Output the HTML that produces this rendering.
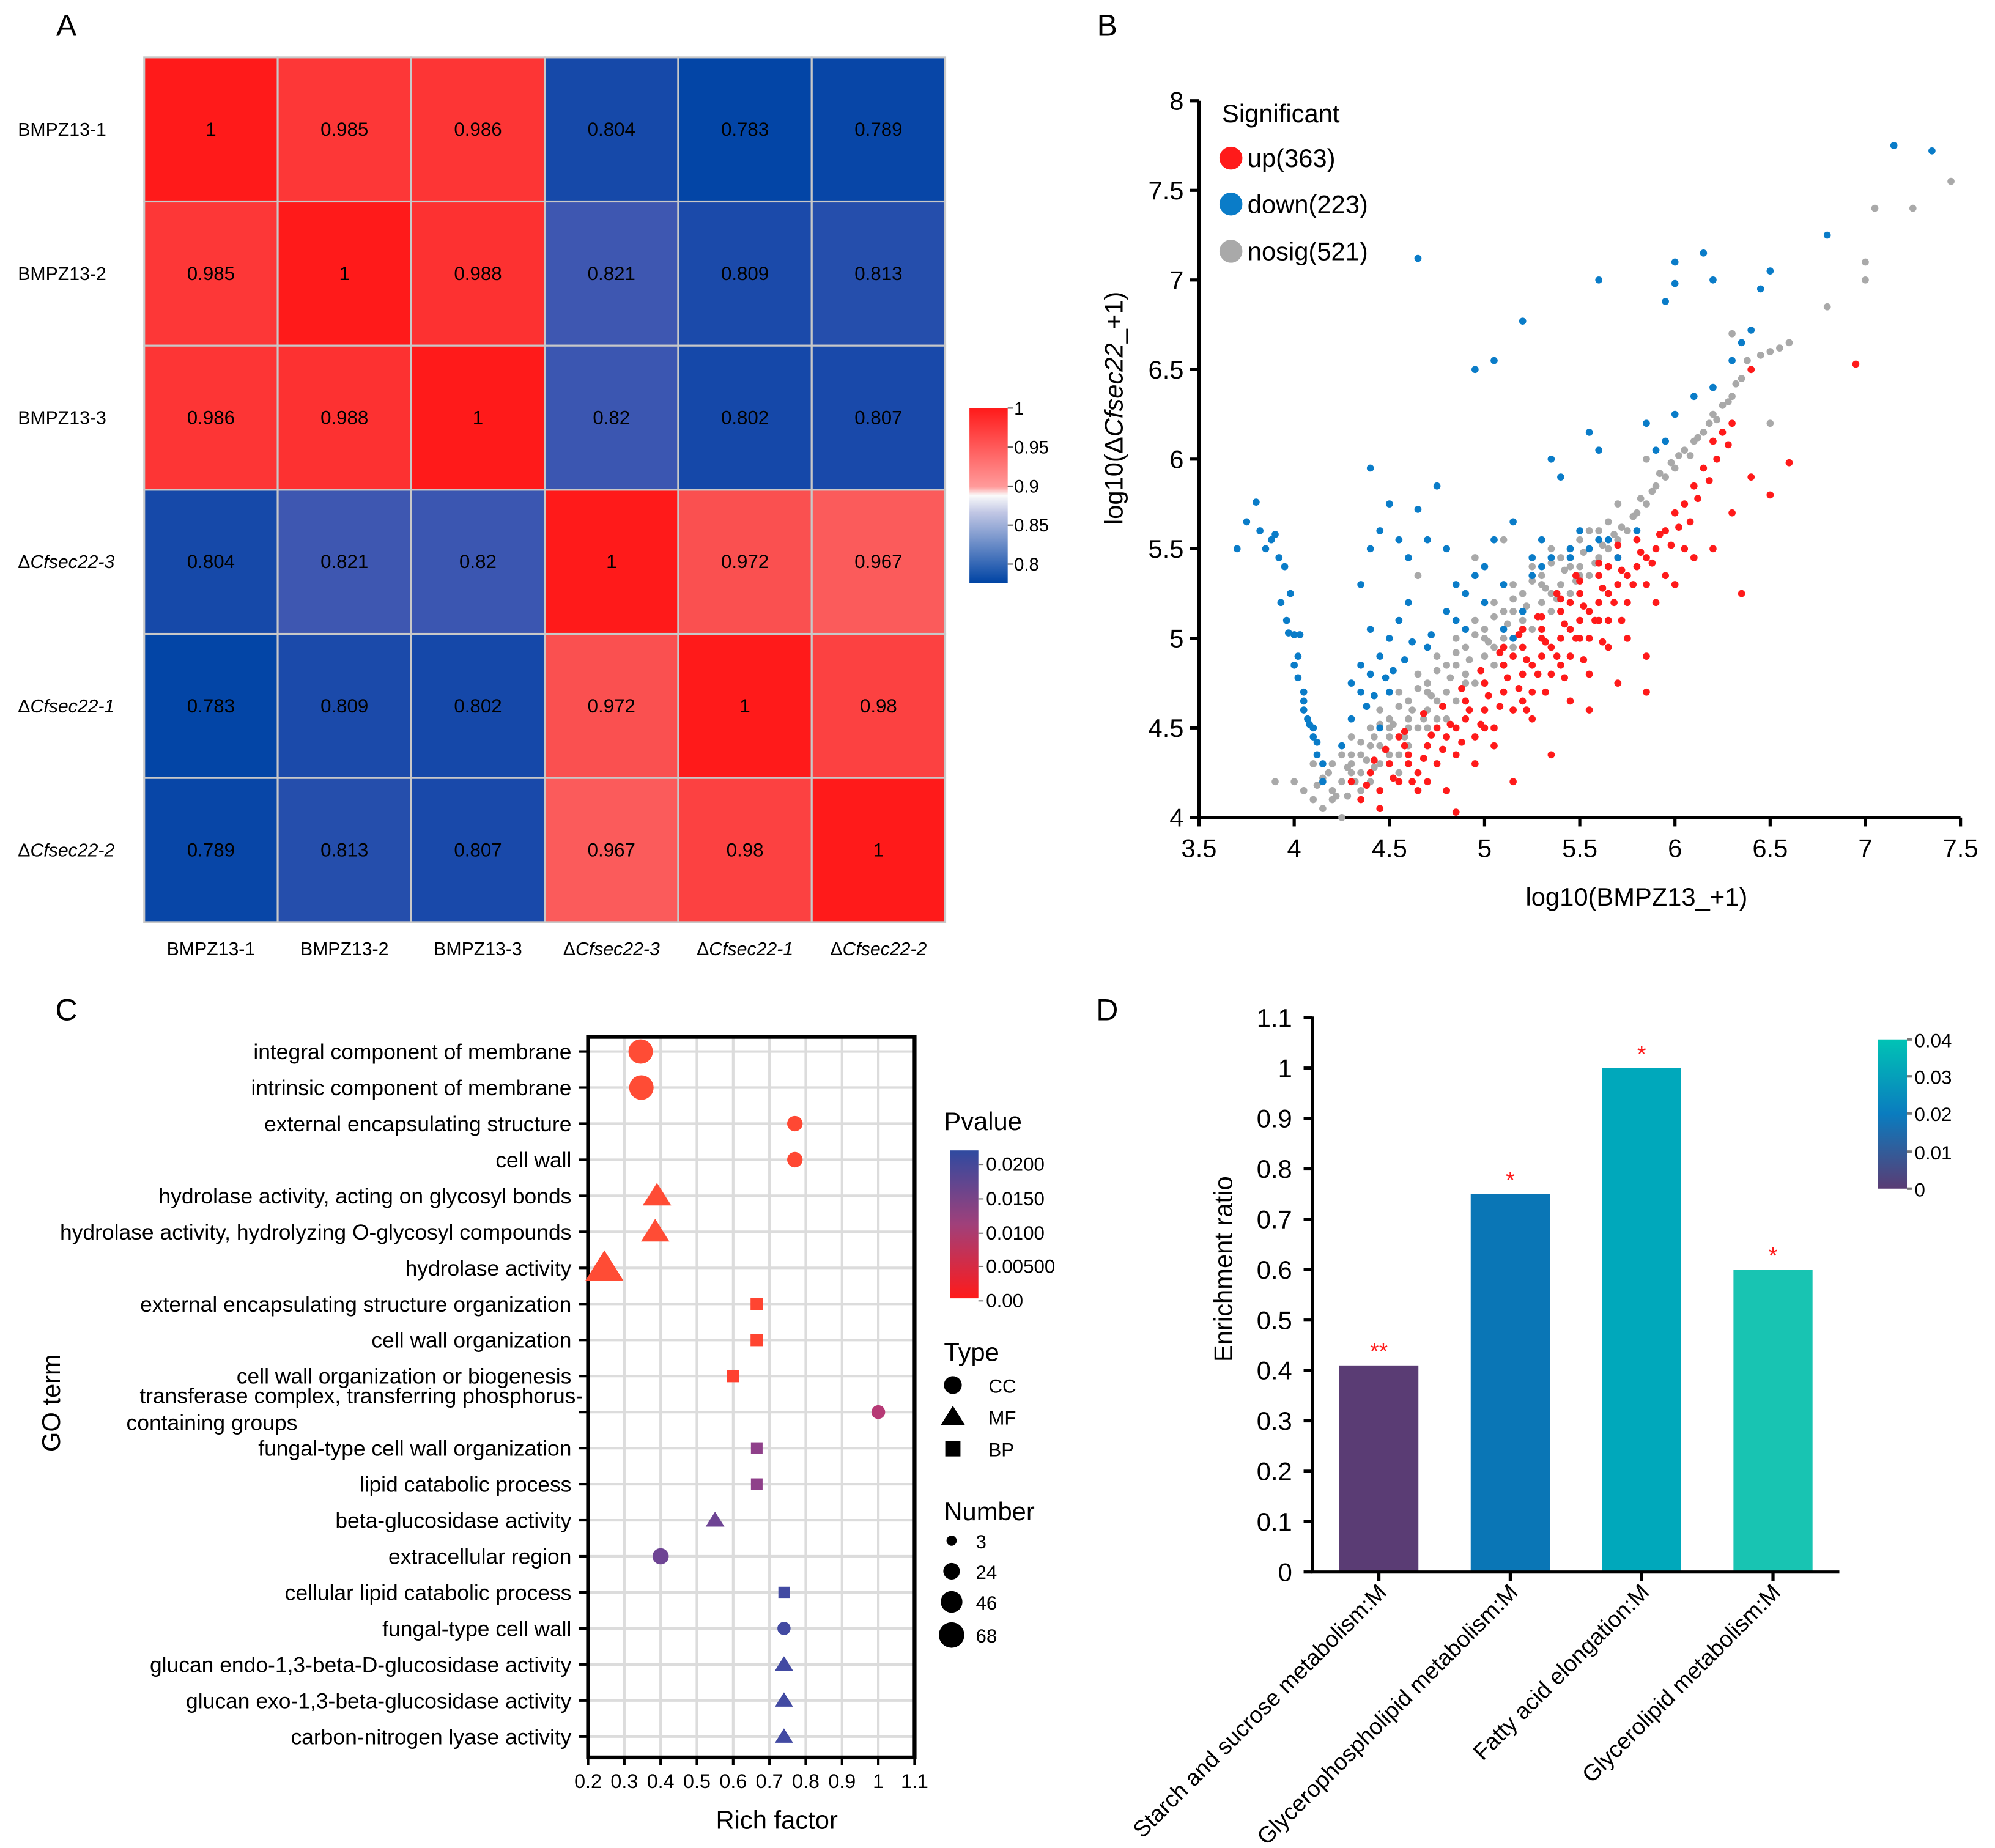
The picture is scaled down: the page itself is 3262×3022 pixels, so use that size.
<!DOCTYPE html>
<html><head><meta charset="utf-8"><style>
html,body{margin:0;padding:0;background:#fff}
svg{display:block;font-family:"Liberation Sans",Arial,sans-serif}
</style></head><body>
<svg id="fig" width="3262" height="3022" viewBox="0 0 1564 1449" xmlns="http://www.w3.org/2000/svg">
<defs>
<linearGradient id="gA" x1="0" y1="0" x2="0" y2="1"><stop offset="0" stop-color="#ff1a1a"/><stop offset="0.45" stop-color="#ff9a9a"/><stop offset="0.5" stop-color="#fafafa"/><stop offset="0.6" stop-color="#c0c6e4"/><stop offset="1" stop-color="#0044a4"/></linearGradient>
<linearGradient id="gC" x1="0" y1="0" x2="0" y2="1"><stop offset="0" stop-color="#2f4aa0"/><stop offset="0.5" stop-color="#a0407a"/><stop offset="1" stop-color="#ff1a1a"/></linearGradient>
<linearGradient id="gD" x1="0" y1="0" x2="0" y2="1"><stop offset="0" stop-color="#00c3b5"/><stop offset="0.5" stop-color="#0a7cbf"/><stop offset="1" stop-color="#5a3c74"/></linearGradient>
</defs>
<g id="A"></g>
<g id="B"></g>
<g id="C"></g>
<g id="D"></g>
</svg>
<script>
// ---- Panel A data
const heatLabels = ["BMPZ13-1","BMPZ13-2","BMPZ13-3","\u0394Cfsec22-3","\u0394Cfsec22-1","\u0394Cfsec22-2"];
const heatValues = [
 [1,0.985,0.986,0.804,0.783,0.789],
 [0.985,1,0.988,0.821,0.809,0.813],
 [0.986,0.988,1,0.82,0.802,0.807],
 [0.804,0.821,0.82,1,0.972,0.967],
 [0.783,0.809,0.802,0.972,1,0.98],
 [0.789,0.813,0.807,0.967,0.98,1]];
const heatTicks = [1,0.95,0.9,0.85,0.8];
// ---- Panel B data
const upPts = "4.3,4.2;4.35,4.1;4.4,4.25;4.45,4.15;4.5,4.3;4.55,4.2;4.6,4.35;4.65,4.25;4.7,4.4;4.75,4.3;4.8,4.45;4.85,4.35;4.9,4.55;4.95,4.45;5.0,4.6;5.05,4.5;5.1,4.7;5.15,4.6;5.2,4.8;5.25,4.7;5.3,4.9;5.35,4.8;5.4,5.0;5.45,4.9;5.5,5.1;5.55,5.0;5.6,5.2;5.65,5.1;5.7,5.3;5.75,5.2;5.8,5.4;5.85,5.3;5.9,5.5;5.95,5.6;6.0,5.7;6.05,5.75;6.1,5.85;6.15,5.95;6.2,6.1;6.25,6.15;6.3,6.2;6.4,6.5;6.6,5.98;6.35,5.25;6.95,6.53;6.5,5.8;6.0,5.3;5.85,4.9;5.7,4.75;5.35,4.35;4.85,4.03;5.15,4.2;4.45,4.05;4.65,4.15;4.95,4.3;5.05,4.4;5.25,4.55;5.45,4.65;5.55,4.8;5.65,4.95;5.75,5.0;5.9,5.2;6.1,5.45;6.2,5.5;6.3,5.7;6.4,5.9;4.75,4.5;4.9,4.65;5.0,4.75;5.1,4.85;5.2,4.95;5.3,5.05;5.4,5.15;5.5,5.25;5.6,5.35;5.7,5.45;5.8,5.55;5.25,4.85;5.35,4.95;5.45,5.05;5.55,5.15;5.65,5.25;5.75,5.35;5.85,5.45;5.95,5.35;6.05,5.5;5.55,4.6;5.85,4.7;4.55,4.45;4.6,4.3;4.7,4.2;4.8,4.15;5.15,4.9;5.3,5.0;5.4,4.85;5.5,5.0;5.6,5.1;4.85,4.5;5.0,4.5;5.2,4.65;5.45,5.2;5.65,5.4;4.38,4.18;4.42,4.32;4.52,4.22;4.58,4.4;4.62,4.2;4.68,4.33;4.72,4.46;4.78,4.38;4.82,4.52;4.88,4.42;4.92,4.6;4.98,4.52;5.02,4.68;5.08,4.62;5.12,4.78;5.18,4.72;5.22,4.88;5.28,4.8;5.32,4.98;5.38,4.9;5.42,5.08;5.48,5.0;5.52,5.18;5.58,5.1;5.62,5.28;5.68,5.2;5.72,5.38;5.78,5.3;5.82,5.48;5.88,5.42;5.92,5.58;5.98,5.52;6.02,5.62;6.08,5.65;6.12,5.78;6.18,5.88;6.22,6.0;6.28,6.08;5.1,4.95;5.2,5.05;5.3,5.12;5.4,5.22;5.5,5.32;5.6,5.42;5.7,5.52;5.22,4.6;5.32,4.7;5.42,4.78;5.52,4.88;5.62,4.98;5.72,5.1;4.48,4.38;4.58,4.48;4.68,4.58;4.78,4.62;4.88,4.72;4.98,4.82;5.08,4.92;5.18,5.02;5.28,5.12;5.38,5.25;5.48,5.35";
const downPts = "3.7,5.5;3.75,5.65;3.8,5.76;3.82,5.6;3.85,5.5;3.88,5.55;3.9,5.58;3.92,5.45;3.95,5.4;3.98,5.25;4.0,5.02;4.03,5.02;3.93,5.2;3.97,5.03;4.0,4.85;4.02,4.78;4.05,4.7;4.05,4.6;4.07,4.55;4.1,4.5;4.1,4.45;4.12,4.35;4.15,4.3;4.15,4.2;4.3,4.55;4.35,4.7;4.4,4.8;4.45,4.9;4.5,5.0;4.55,5.1;4.6,5.2;4.35,5.3;4.4,5.95;4.45,5.6;4.5,5.75;4.55,5.55;4.6,5.45;4.65,5.72;4.7,5.55;4.75,5.85;4.8,5.5;4.85,5.3;4.9,5.25;4.95,5.35;5.0,5.4;5.05,5.55;5.1,5.05;5.15,5.0;5.2,5.15;5.25,5.35;5.3,5.4;5.35,5.45;5.4,5.9;5.45,5.5;5.5,5.6;5.55,6.15;5.6,6.05;5.65,5.55;5.7,5.45;5.8,5.6;5.85,6.2;5.9,6.05;5.95,6.1;6.0,6.25;6.1,6.35;6.2,6.4;6.3,6.55;6.35,6.65;6.4,6.72;6.45,6.95;6.2,7.0;6.0,6.98;5.95,6.88;6.0,7.1;6.15,7.15;6.5,7.05;6.8,7.25;7.15,7.75;7.35,7.72;5.6,7.0;5.2,6.77;4.95,6.5;5.05,6.55;4.65,7.12;4.4,5.5;4.5,4.7;4.45,4.5;4.25,4.4;4.7,4.95;4.85,5.1;5.25,5.45;4.3,4.75;4.35,4.85;4.4,5.05;5.15,5.65;5.35,6.0;4.38,4.62;4.48,4.78;4.58,4.88;4.42,4.68;4.52,4.82;4.62,4.98;4.72,5.02;4.8,5.15;4.9,5.05;5.0,5.2;5.1,5.3;5.3,5.55;5.45,5.45;5.55,5.5;5.6,5.55;4.05,4.65;4.12,4.42;4.08,4.52;3.96,5.1;4.02,4.9";
const nosigPts = "4.0,4.2;4.1,4.1;4.15,4.05;4.2,4.3;4.25,4.2;4.3,4.35;4.35,4.25;4.4,4.4;4.45,4.3;4.5,4.45;4.55,4.35;4.6,4.55;4.65,4.5;4.7,4.6;4.75,4.55;4.8,4.7;4.85,4.65;4.9,4.8;4.95,4.75;5.0,4.9;5.05,4.85;5.1,5.0;5.15,4.95;5.2,5.1;5.25,5.05;5.3,5.2;5.35,5.15;5.4,5.3;5.45,5.25;5.5,5.4;5.55,5.35;5.6,5.45;5.65,5.5;5.7,5.55;5.75,5.6;5.8,5.7;5.85,5.75;5.9,5.85;5.95,5.9;6.0,5.95;6.05,6.05;6.1,6.1;6.15,6.15;6.2,6.25;6.25,6.3;6.3,6.35;6.35,6.45;6.4,6.5;6.5,6.6;6.6,6.65;6.3,6.7;6.4,6.72;6.8,6.85;7.0,7.0;7.0,7.1;7.05,7.4;7.25,7.4;7.45,7.55;4.2,4.15;4.3,4.25;4.4,4.2;4.5,4.35;4.6,4.4;4.7,4.5;4.8,4.55;4.9,4.65;5.0,4.75;5.1,4.85;5.2,4.95;4.3,4.45;4.4,4.5;4.5,4.55;4.6,4.65;4.7,4.75;4.8,4.85;4.9,4.95;5.0,5.05;5.1,5.15;5.2,5.25;5.3,5.35;5.4,5.45;5.5,5.55;5.6,5.6;5.7,5.75;4.45,4.6;4.55,4.7;4.65,4.8;4.75,4.9;4.85,5.0;4.95,5.1;5.05,5.2;5.15,5.3;5.25,5.4;5.35,5.5;4.65,5.35;4.95,5.45;5.1,5.55;6.5,6.2;5.85,6.0;4.1,4.3;3.9,4.2;4.25,4.0;4.35,4.15;4.55,4.25;5.45,5.5;5.55,5.6;5.65,5.65;4.2,4.1;4.3,4.3;4.45,4.4;4.6,4.5;4.75,4.65;4.9,4.75;5.05,4.95;5.2,5.05;5.35,5.25;5.5,5.35;4.35,4.35;4.5,4.5;4.7,4.7;4.85,4.85;5.0,5.0;5.15,5.15;5.3,5.3;5.45,5.4;4.12,4.18;4.18,4.25;4.22,4.12;4.28,4.28;4.32,4.2;4.38,4.32;4.42,4.45;4.48,4.38;4.52,4.52;4.58,4.45;4.62,4.6;4.68,4.55;4.72,4.68;4.78,4.62;4.82,4.78;4.88,4.72;4.92,4.88;4.98,4.82;5.02,4.98;5.08,4.92;5.12,5.08;5.18,5.02;5.22,5.18;5.28,5.12;5.32,5.28;5.38,5.22;5.42,5.38;5.48,5.32;5.52,5.48;5.58,5.42;5.62,5.52;5.68,5.58;5.72,5.62;5.78,5.68;5.82,5.78;5.88,5.82;5.92,5.92;5.98,5.98;6.02,6.02;6.08,6.02;6.12,6.12;6.18,6.2;6.22,6.22;6.28,6.32;6.32,6.42;6.38,6.55;6.45,6.58;6.55,6.62;4.25,4.35;4.35,4.42;4.45,4.52;4.55,4.62;4.65,4.72;4.75,4.82;4.85,4.92;4.95,5.02;5.05,5.12;5.15,5.22;5.25,5.32;5.35,5.42;4.15,4.22;4.28,4.12;4.42,4.28;4.05,4.15";
const bXTicks = [3.5,4,4.5,5,5.5,6,6.5,7,7.5];
const bYTicks = [4,4.5,5,5.5,6,6.5,7,7.5,8];
// ---- Panel C data
const goTerms = ["integral component of membrane","intrinsic component of membrane","external encapsulating structure","cell wall","hydrolase activity, acting on glycosyl bonds","hydrolase activity, hydrolyzing O-glycosyl compounds","hydrolase activity","external encapsulating structure organization","cell wall organization","cell wall organization or biogenesis","transferase complex, transferring phosphorus-|containing groups","fungal-type cell wall organization","lipid catabolic process","beta-glucosidase activity","extracellular region","cellular lipid catabolic process","fungal-type cell wall","glucan endo-1,3-beta-D-glucosidase activity","glucan exo-1,3-beta-glucosidase activity","carbon-nitrogen lyase activity"];
const goRich = [0.345,0.347,0.77,0.77,0.39,0.385,0.245,0.665,0.665,0.6,1.0,0.665,0.665,0.55,0.4,0.74,0.74,0.74,0.74,0.74];
const goType = ["CC","CC","CC","CC","MF","MF","MF","BP","BP","BP","CC","BP","BP","MF","CC","BP","CC","MF","MF","MF"];
const goNumber = [46,46,10,10,28,28,68,8,8,8,6,6,6,6,12,5,5,5,5,5];
const goPvalue = [0.001,0.001,0.002,0.002,0.001,0.001,0.001,0.003,0.003,0.004,0.009,0.013,0.013,0.016,0.016,0.02,0.02,0.02,0.02,0.02];
const cXTicks = [0.2,0.3,0.4,0.5,0.6,0.7,0.8,0.9,1,1.1];
// ---- Panel D data
const keggCats = ["Starch and sucrose metabolism:M","Glycerophospholipid metabolism:M","Fatty acid elongation:M","Glycerolipid metabolism:M"];
const keggRatio = [0.41,0.75,1.0,0.6];
const keggStars = ["**","*","*","*"];
const keggColors = ["#5a3c74","#0a76b6","#00a8bb","#18c4b2"];
const dYTicks = [0,0.1,0.2,0.3,0.4,0.5,0.6,0.7,0.8,0.9,1,1.1];

const NS="http://www.w3.org/2000/svg";
function mk(parent,tag,attrs,text){const e=document.createElementNS(NS,tag);for(const k in attrs)e.setAttribute(k,attrs[k]);if(text!==undefined)e.textContent=text;parent.appendChild(e);return e;}
const svg=document.getElementById('fig');

[["A",52,28],["B",868,28],["C",52,800],["D",868,800]].forEach(p=>{const t=mk(svg,'text',{x:p[1],y:p[2],'font-size':24,'text-anchor':'middle'},p[0]);

});

// ---------- A
(function(){
 const g=document.getElementById('A');
 const x0=113,y0=45,cw=104.67,ch=113;
 function col(v){
  const stops=[[0.78,[0,68,165]],[0.81,[28,74,170]],[0.825,[75,92,180]],[0.86,[150,160,210]],[0.9,[248,248,250]],[0.95,[255,130,130]],[0.97,[250,84,84]],[1,[255,26,26]]];
  if(v<=stops[0][0])return 'rgb('+stops[0][1]+')';
  for(let i=1;i<stops.length;i++){if(v<=stops[i][0]){const a=stops[i-1],b=stops[i],t=(v-a[0])/(b[0]-a[0]);return 'rgb('+a[1].map((c,j)=>Math.round(c+(b[1][j]-c)*t)).join(',')+')';}}
  return 'rgb(255,26,26)';}
 heatValues.forEach((row,r)=>row.forEach((v,c)=>{
  const rc=mk(g,'rect',{x:x0+c*cw,y:y0+r*ch,width:cw,height:ch,fill:col(v),stroke:'#c8c8c8','stroke-width':1.5});
  
  
  const t=mk(g,'text',{x:x0+c*cw+cw/2,y:y0+r*ch+ch/2+5,'font-size':15,'text-anchor':'middle'},String(v));
  
  
 }));
 function lab(parent,x,y,s,anchor){const t=mk(parent,'text',{x:x,y:y,'font-size':14.5,'text-anchor':anchor});
  if(s[0]==='\u0394'){mk(t,'tspan',{},'\u0394');mk(t,'tspan',{'font-style':'italic'},s.slice(1));}else t.textContent=s;return t;}
 heatLabels.forEach((s,i)=>{
  const t=lab(g,14,y0+i*ch+ch/2+5,s,'start');
  
  
  const t2=lab(g,x0+i*cw+cw/2,749,s,'middle');
  
  
 });
 const cb=mk(g,'rect',{x:760,y:320,width:30,height:137,fill:'url(#gA)'});
 
 
 heatTicks.forEach(v=>{const y=320+(1-v)/(1-0.776)*137;
  mk(g,'line',{x1:790,x2:794,y1:y,y2:y,stroke:'#555'});
  const t=mk(g,'text',{x:795,y:y+5,'font-size':14},String(v));
  
  });
})();

// ---------- B
(function(){
 const g=document.getElementById('B');
 const X=v=>940+(v-3.5)/4*597, Y=v=>641-(v-4)/4*562;
 const ax=mk(g,'path',{d:`M940,79 V641 H1537`,stroke:'#000','stroke-width':2.5,fill:'none'});
 
 
 bXTicks.forEach(v=>{mk(g,'line',{x1:X(v),x2:X(v),y1:641,y2:648,stroke:'#000','stroke-width':2.5});
  const t=mk(g,'text',{x:X(v),y:672,'font-size':20,'text-anchor':'middle'},String(v));
  
  });
 bYTicks.forEach(v=>{mk(g,'line',{x1:933,x2:940,y1:Y(v),y2:Y(v),stroke:'#000','stroke-width':2.5});
  const t=mk(g,'text',{x:928,y:Y(v)+7,'font-size':20,'text-anchor':'end'},String(v));
  
  });
 const xt=mk(g,'text',{x:1283,y:710,'font-size':20,'text-anchor':'middle'},'log10(BMPZ13_+1)');
 
 
 const yt=mk(g,'text',{x:0,y:0,'font-size':20,'text-anchor':'middle',transform:'translate(880,320) rotate(-90)'});
 mk(yt,'tspan',{},'log10(\u0394');mk(yt,'tspan',{'font-style':'italic'},'Cfsec22');mk(yt,'tspan',{},'_+1)');
 
 
 [[nosigPts,'#a9a9a9','nosig-point'],[upPts,'#ff1a1a','up-point'],[downPts,'#0a7cc8','down-point']].forEach(s=>{
  s[0].split(';').forEach(p=>{const [a,b]=p.split(',').map(Number);
   const c=mk(g,'circle',{cx:X(a),cy:Y(b),r:2.8,fill:s[1]});
   
   });});
 const lt=mk(g,'text',{x:958,y:96,'font-size':20},'Significant');
 
 
 [['up(363)','#ff1a1a',124],['down(223)','#0a7cc8',160],['nosig(521)','#a9a9a9',197]].forEach(l=>{
  const c=mk(g,'circle',{cx:965,cy:l[2],r:9,fill:l[1]});
  
  
  const t=mk(g,'text',{x:978,y:l[2]+7,'font-size':20},l[0]);
  
  });
})();

// ---------- C
(function(){
 const g=document.getElementById('C');
 const X=v=>461+(v-0.2)/0.9*256, Y=i=>824.5+i*28.27;
 cXTicks.forEach(v=>{const l=mk(g,'line',{x1:X(v),x2:X(v),y1:813,y2:1378,stroke:'#dcdcdc','stroke-width':2});
  
  });
 goTerms.forEach((s,i)=>{mk(g,'line',{x1:461,x2:717,y1:Y(i),y2:Y(i),stroke:'#dcdcdc','stroke-width':2});
  mk(g,'line',{x1:454,x2:461,y1:Y(i),y2:Y(i),stroke:'#000','stroke-width':2});
  const parts=s.split('|');
  let t;
  if(parts.length>1){t=mk(g,'text',{'font-size':17});
   mk(t,'tspan',{x:457,y:Y(i)-7,'text-anchor':'end'},parts[0]);
   mk(t,'tspan',{x:99,y:Y(i)+14,'text-anchor':'start'},parts[1]);}
  else t=mk(g,'text',{x:448,y:Y(i)+6,'font-size':17,'text-anchor':'end'},s);
  
  
 });
 const box=mk(g,'rect',{x:461,y:813,width:256,height:565,fill:'none',stroke:'#000','stroke-width':3});
 
 
 cXTicks.forEach(v=>{mk(g,'line',{x1:X(v),x2:X(v),y1:1378,y2:1384,stroke:'#000','stroke-width':2});
  const t=mk(g,'text',{x:X(v),y:1402,'font-size':15.5,'text-anchor':'middle'},String(v));
  
  });
 function pcol(p){const t=Math.min(1,p/0.021);
  const a=[255,40,40],m=[170,60,130],b=[55,75,165];
  const c=t<0.5?a.map((v,j)=>v+(m[j]-v)*t*2):m.map((v,j)=>v+(b[j]-v)*(t-0.5)*2);
  if(t<0.25)return 'rgb('+[255,Math.round(80-t*80),Math.round(55-t*40)]+')';
  return 'rgb('+c.map(Math.round)+')';}
 const rad=n=>3+Math.sqrt(n/68)*8;
 function shape(parent,type,cx,cy,r,fill){
  if(type==='CC')return mk(parent,'circle',{cx:cx,cy:cy,r:r,fill:fill});
  if(type==='MF'){const h=r*1.25;return mk(parent,'path',{d:`M${cx},${cy-h} L${cx+h*1.1},${cy+h*0.75} L${cx-h*1.1},${cy+h*0.75}Z`,fill:fill});}
  const s=r*0.85;return mk(parent,'rect',{x:cx-s,y:cy-s,width:2*s,height:2*s,fill:fill});}
 goTerms.forEach((s,i)=>{const e=shape(g,goType[i],X(goRich[i]),Y(i),rad(goNumber[i]),pcol(goPvalue[i]));
  
  });
 const xt=mk(g,'text',{x:609,y:1434,'font-size':20,'text-anchor':'middle'},'Rich factor');
 
 
 const yt=mk(g,'text',{x:0,y:0,'font-size':20,'text-anchor':'middle',transform:'translate(47,1100) rotate(-90)'},'GO term');
 
 
 const pt=mk(g,'text',{x:740,y:886,'font-size':20},'Pvalue');
 
 
 const cb=mk(g,'rect',{x:745,y:902,width:22,height:116,fill:'url(#gC)'});
 
 
 [['0.0200',913],['0.0150',940],['0.0100',967],['0.00500',993],['0.00',1020]].forEach(l=>{
  mk(g,'line',{x1:767,x2:771,y1:l[1],y2:l[1],stroke:'#777'});
  const t=mk(g,'text',{x:773,y:l[1]+5,'font-size':15},l[0]);
  
  });
 const tt=mk(g,'text',{x:740,y:1067,'font-size':20},'Type');
 
 
 [['CC',1086],['MF',1111],['BP',1136]].forEach(l=>{const e=shape(g,l[0],747,l[1],7,'#000');
  
  
  const t=mk(g,'text',{x:775,y:l[1]+6,'font-size':15},l[0]);
  
  });
 const nt=mk(g,'text',{x:740,y:1192,'font-size':20},'Number');
 
 
 [[3,1208,4],[24,1232,6.5],[46,1256,8.5],[68,1282,10]].forEach(l=>{
  const c=mk(g,'circle',{cx:746,cy:l[1],r:l[2],fill:'#000'});
  
  
  const t=mk(g,'text',{x:765,y:l[1]+6,'font-size':15},String(l[0]));
  
  });
})();

// ---------- D
(function(){
 const g=document.getElementById('D');
 const Y=v=>1232.6-v/1.1*434.6;
 const centers=[1081,1184,1287,1390], bw=62;
 keggCats.forEach((c,i)=>{
  const r=mk(g,'rect',{x:centers[i]-bw/2,y:Y(keggRatio[i]),width:bw,height:Y(0)-Y(keggRatio[i]),fill:keggColors[i]});
  
  
  const s=mk(g,'text',{x:centers[i],y:Y(keggRatio[i])-5,'font-size':18,fill:'#ff1a1a','text-anchor':'middle'},keggStars[i]);
  
  
  mk(g,'line',{x1:centers[i],x2:centers[i],y1:Y(0),y2:Y(0)+7,stroke:'#000','stroke-width':2.5});
  const t=mk(g,'text',{x:0,y:0,'font-size':18,'text-anchor':'end',transform:`translate(${centers[i]+7},${Y(0)+17}) rotate(-45)`},c);
  
  
 });
 const ax=mk(g,'path',{d:`M1029,797 V1232.6 H1442`,stroke:'#000','stroke-width':2.5,fill:'none'});
 
 
 dYTicks.forEach(v=>{mk(g,'line',{x1:1022,x2:1029,y1:Y(v),y2:Y(v),stroke:'#000','stroke-width':2.5});
  const t=mk(g,'text',{x:1013,y:Y(v)+7,'font-size':20,'text-anchor':'end'},String(v));
  
  });
 const yt=mk(g,'text',{x:0,y:0,'font-size':20,'text-anchor':'middle',transform:'translate(966,995) rotate(-90)'},'Enrichment ratio');
 
 
 const cb=mk(g,'rect',{x:1472,y:815,width:23,height:117,fill:'url(#gD)'});
 
 
 [['0.04',815],['0.03',844],['0.02',873],['0.01',903],['0',932]].forEach(l=>{
  mk(g,'line',{x1:1495,x2:1499,y1:l[1],y2:l[1],stroke:'#777','stroke-width':2});
  const t=mk(g,'text',{x:1501,y:l[1]+6,'font-size':15},l[0]);
  
  });
})();
</script>
</body></html>
